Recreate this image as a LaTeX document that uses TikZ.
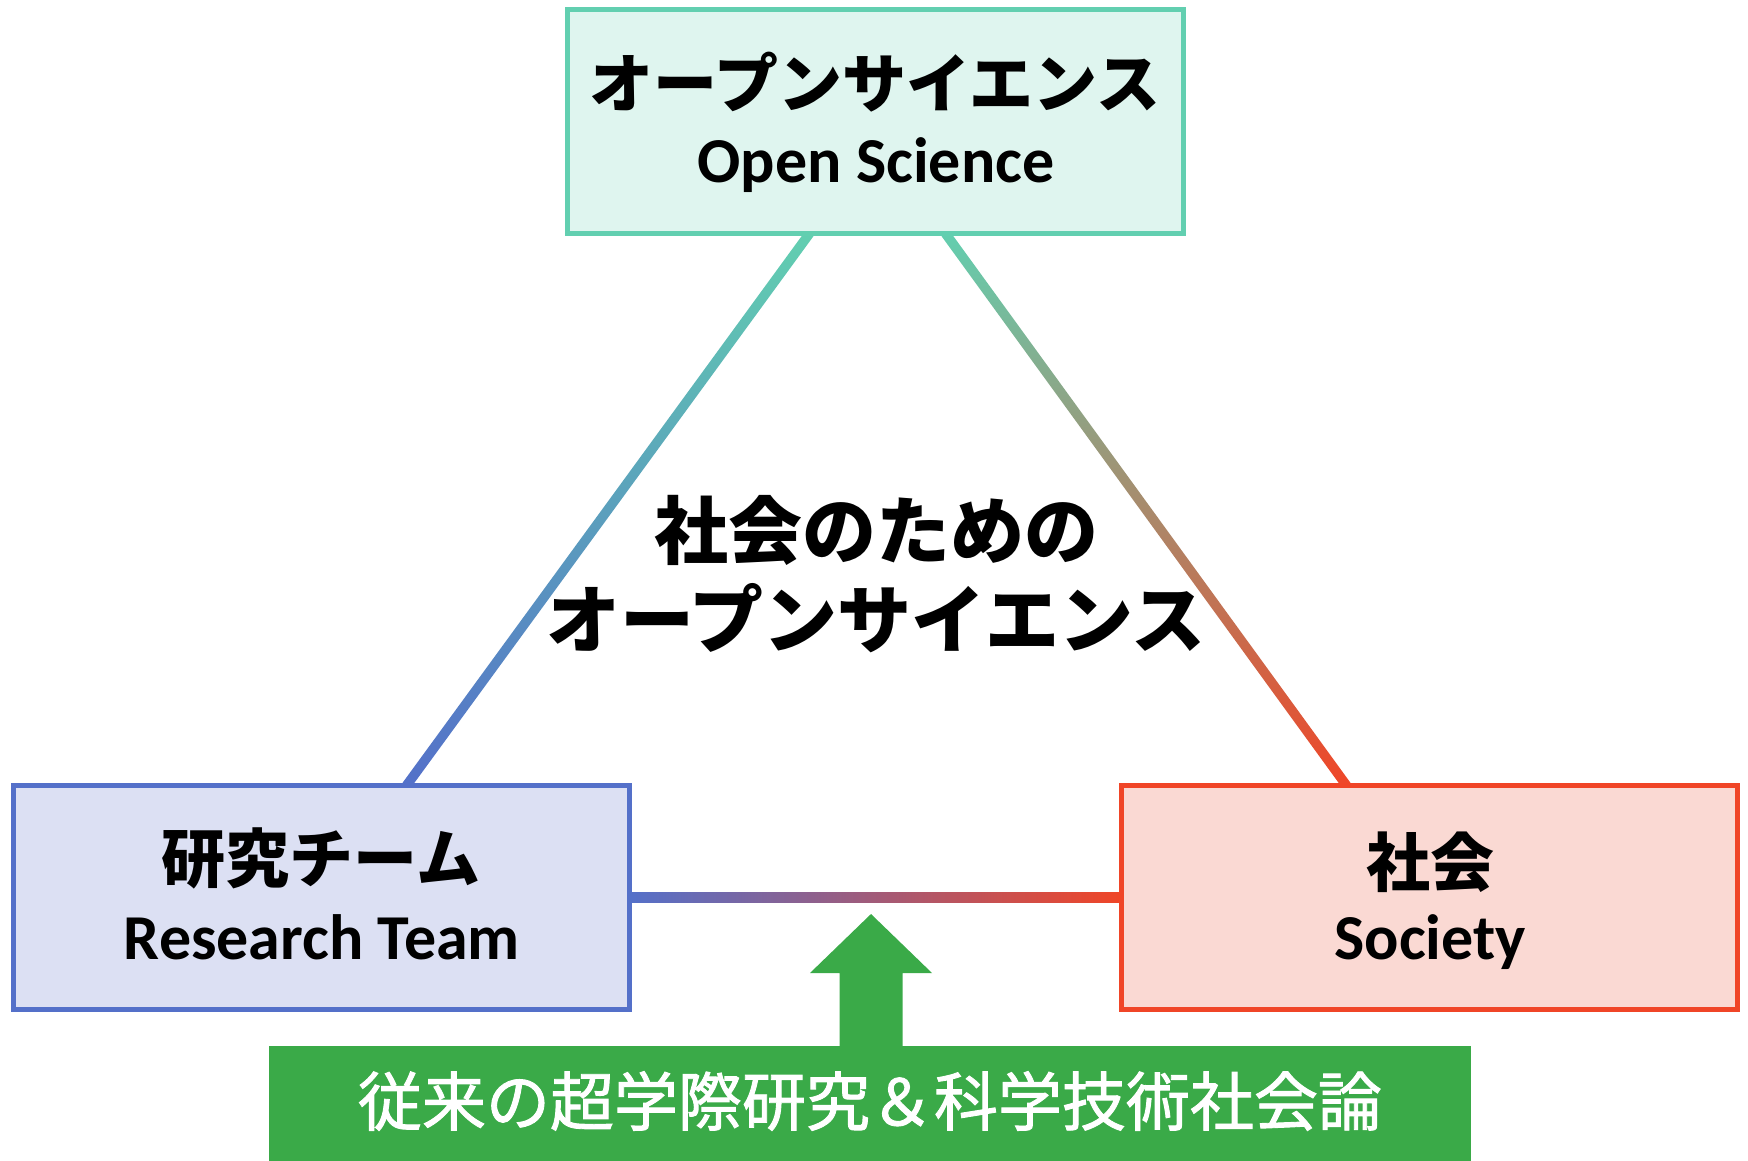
\documentclass[tikz,border=0pt]{standalone}
\usepackage{fontspec}
\setmainfont{Carlito}
\newfontfamily\jp{Noto Sans CJK JP}
\newfontfamily\jpm[FakeBold=1.4]{Noto Sans CJK JP}
\usetikzlibrary{calc}
\definecolor{tealB}{HTML}{62CFB0}
\definecolor{tealF}{HTML}{DFF5EF}
\definecolor{blueB}{HTML}{5470C9}
\definecolor{blueF}{HTML}{DCE0F3}
\definecolor{redB}{HTML}{F04527}
\definecolor{redF}{HTML}{FAD9D3}
\definecolor{grn}{HTML}{3AAA48}
% a thick line from #1 to #2, drawn as a band so it can carry a gradient (#3 = shading keys)
\newcommand\bandline[3]{%
  \path[#3] ($(#1)!4.8pt!90:(#2)$) -- ($(#2)!4.8pt!-90:(#1)$)
    -- ($(#2)!4.8pt!90:(#1)$) -- ($(#1)!4.8pt!-90:(#2)$) -- cycle;}
\tikzset{
  box/.style={rectangle, line width=4.5pt, inner sep=0pt, outer sep=0pt},
  jptxt/.style={font=\jp\bfseries\fontsize{64}{70}\selectfont, inner sep=0pt},
  entxt/.style={font=\bfseries\fontsize{64}{70}\selectfont, inner sep=0pt, anchor=base},
  midtxt/.style={font=\jp\bfseries\fontsize{74}{80}\selectfont, inner sep=0pt},
  bottxt/.style={font=\jpm\fontsize{64}{70}\selectfont, inner sep=0pt, text=white}
}
\begin{document}
\begin{tikzpicture}[x=1pt,y=-1pt]
\useasboundingbox (0,0) rectangle (1748,1160);
% boxes (geometry)
\path (875.5,121.5) node[box, minimum width=616, minimum height=224] (os) {};
\path (321.5,897.5) node[box, minimum width=616, minimum height=224] (rt) {};
\path (1429.5,897.5) node[box, minimum width=616, minimum height=224] (so) {};
% connectors
\coordinate (osL) at ([xshift=-66pt]os.south);
\coordinate (osR) at ([xshift=70pt]os.south);
\coordinate (rtT) at ([xshift=85pt]rt.north);
\coordinate (soT) at ([xshift=-83pt]so.north);
\bandline{osL}{rtT}{top color=tealB, bottom color=blueB}
\bandline{osR}{soT}{top color=tealB, bottom color=redB}
\bandline{rt.east}{so.west}{left color=blueB, right color=redB}
% draw boxes on top
\node[box, draw=tealB, fill=tealF, minimum width=616, minimum height=224] at (os) {};
\node[box, draw=blueB, fill=blueF, minimum width=616, minimum height=224] at (rt) {};
\node[box, draw=redB, fill=redF, minimum width=616, minimum height=224] at (so) {};
% texts
\node[jptxt] (osj) at (875,82) {オープンサイエンス};
\node[entxt] (ose) at (876,182) {Open Science};
\node[jptxt] (rtj) at (321,858) {研究チーム};
\node[entxt] (rte) at (322,959) {Research Team};
\node[jptxt] (soj) at (1430,862) {社会};
\node[entxt] (soe) at (1430,959) {Society};
\node[midtxt] (m1) at (876,530) {社会のための};
\node[midtxt] (m2) at (876,618) {オープンサイエンス};
% green box and arrow
\node[rectangle, fill=grn, inner sep=0pt, minimum width=1202, minimum height=120, anchor=north] (gb) at (870,1046) {};
\node[bottxt] (gbt) at (870,1101) {従来の超学際研究＆科学技術社会論};
\coordinate (tip) at (871,914);
\fill[grn] (gb.north -| tip) ++(-31.5,2) -- ++(0,-75) -- ++(-29.5,0) -- (tip) -- ($(tip)+(61,59)$) -- ++(-29.5,0) -- ($(gb.north -| tip)+(31.5,2)$) -- cycle;
\end{tikzpicture}
\end{document}
